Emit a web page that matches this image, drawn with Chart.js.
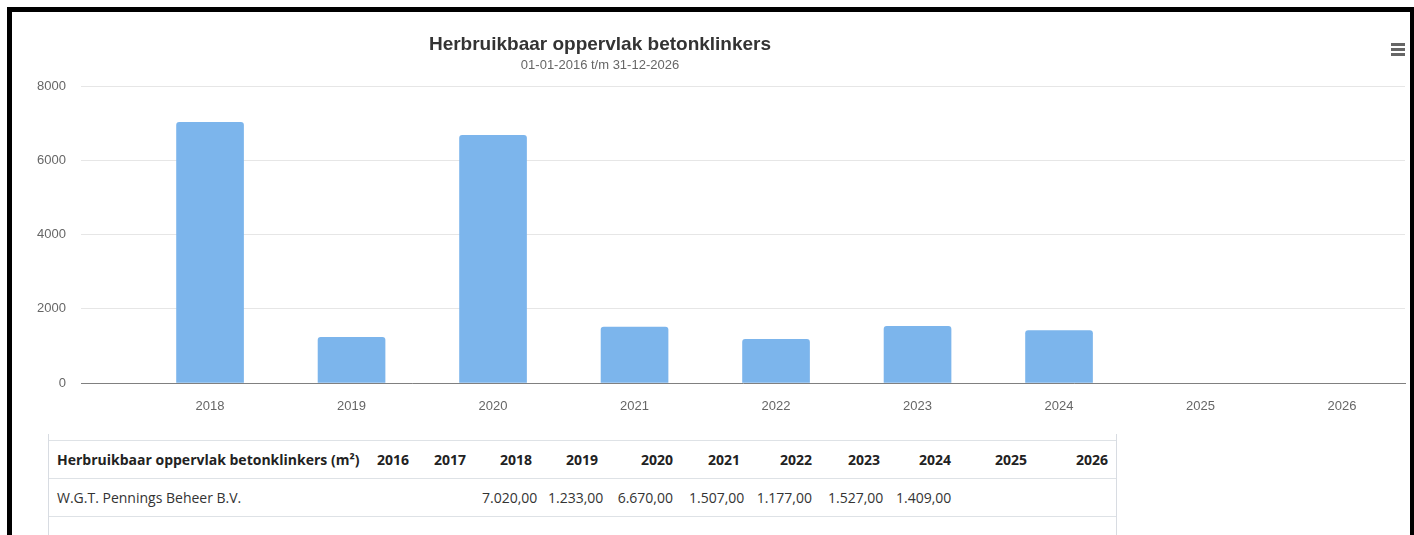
<!DOCTYPE html>
<html>
<head>
<meta charset="utf-8">
<script src="https://cdn.jsdelivr.net/npm/chart.js@4"></script>
<style>
  html, body { margin: 0; padding: 0; background: #fff; }
  body { width: 1414px; height: 535px; overflow: hidden; position: relative; font-family: "Liberation Sans", Arial, sans-serif; }
  #frame { position: absolute; left: 7px; top: 7px; width: 1398px; height: 600px; border-top: 5px solid #000; border-left: 5px solid #000; border-right: 4px solid #000; }
  #chartBox { position: absolute; left: 0; top: 0; width: 1414px; height: 420px; }
  #titel { position: absolute; left: 300px; width: 600px; top: 33px; text-align: center; font-size: 19px; font-weight: bold; color: #333; }
  #subtitel { position: absolute; left: 300px; width: 600px; top: 57px; text-align: center; font-size: 13px; color: #666; }
  #menu { position: absolute; left: 1391px; top: 43px; width: 14px; }
  #menu div { height: 3px; background: #666; margin-bottom: 2px; }
  #tabelBox { position: absolute; left: 48px; top: 434px; width: 1067px; height: 110px; border-left: 1px solid #d8dce2; border-right: 1px solid #d8dce2; }
  table { margin-top: 6px; width: 1067px; border-collapse: collapse; table-layout: fixed; font-family: "Open Sans", sans-serif; font-size: 14px; color: #333; }
  td, th { box-sizing: border-box; height: 38px; padding: 0 8px; border-top: 1px solid #dee2e6; border-bottom: 1px solid #dee2e6; text-align: right; white-space: nowrap; overflow: visible; }
  th { color: #222; }
  th:first-child, td:first-child { text-align: left; }
</style>
</head>
<body>
<div id="frame"></div>
<div id="chartBox"><canvas id="grafiek"></canvas></div>
<div id="titel">Herbruikbaar oppervlak betonklinkers</div>
<div id="subtitel">01-01-2016 t/m 31-12-2026</div>
<div id="menu"><div></div><div></div><div></div></div>
<div id="tabelBox"><table id="tabel"></table></div>
<script>
// ======== DATA =========
const jaren = [2016, 2017, 2018, 2019, 2020, 2021, 2022, 2023, 2024, 2025, 2026];
const oppervlak = [null, null, 7020, 1233, 6670, 1507, 1177, 1527, 1409, null, null];
const yTicks = [0, 2000, 4000, 6000, 8000];
const reeksNaam = 'Herbruikbaar oppervlak betonklinkers (m²)';
const bedrijf = 'W.G.T. Pennings Beheer B.V.';

// kolombreedtes van de tabel (px)
const kolommen = [320, 48, 57, 66, 66, 75, 67, 72, 68, 71, 76, 81];

// ======== GRAFIEK =========
const xMin = 2018 - 0.912;
const xMax = 2026 + 0.445;

const ctx = document.getElementById('grafiek');
new Chart(ctx, {
  type: 'bar',
  data: {
    datasets: [{
      label: reeksNaam,
      data: jaren.map((j, i) => ({ x: j, y: oppervlak[i] })),
      backgroundColor: '#7cb5ec',
      borderRadius: 3,
      borderSkipped: 'bottom',
      barThickness: 67
    }]
  },
  options: {
    responsive: true,
    maintainAspectRatio: false,
    animation: false,
    layout: { padding: { top: 86, right: 9, left: 0, bottom: 0 } },
    plugins: {
      legend: { display: false },
      tooltip: { enabled: false }
    },
    scales: {
      x: {
        type: 'linear',
        offset: false,
        min: xMin,
        max: xMax,
        afterBuildTicks: s => { s.ticks = jaren.filter(j => j >= xMin && j <= xMax).map(j => ({ value: j })); },
        afterFit: s => { s.height = 37; },
        grid: { display: false },
        border: { display: true, color: '#808080', width: 1 },
        ticks: {
          padding: 8,
          autoSkip: false,
          maxRotation: 0,
          color: '#666',
          font: { family: 'Liberation Sans', size: 13 },
          callback: v => String(v)
        }
      },
      y: {
        min: 0,
        max: 8000,
        afterBuildTicks: s => { s.ticks = yTicks.map(v => ({ value: v })); },
        afterFit: s => { s.width = 81; },
        grid: { color: '#e6e6e6', drawTicks: false },
        border: { display: false },
        ticks: {
          padding: 15,
          color: '#666',
          font: { family: 'Liberation Sans', size: 13 },
          callback: v => String(v)
        }
      }
    }
  }
});

// ======== TABEL =========
function nlGetal(v) {
  const [heel, dec] = v.toFixed(2).split('.');
  return heel.replace(/\B(?=(\d{3})+(?!\d))/g, '.') + ',' + dec;
}

const tabel = document.getElementById('tabel');
let html = '<tr><th style="width:' + kolommen[0] + 'px">' + reeksNaam + '</th>' +
  jaren.map((j, i) => '<th style="width:' + kolommen[i + 1] + 'px">' + j + '</th>').join('') + '</tr>';
html += '<tr><td>' + bedrijf + '</td>' + oppervlak.map(v => '<td>' + (v == null ? '' : nlGetal(v)) + '</td>').join('') + '</tr>';
tabel.innerHTML = html;
</script>
</body>
</html>
